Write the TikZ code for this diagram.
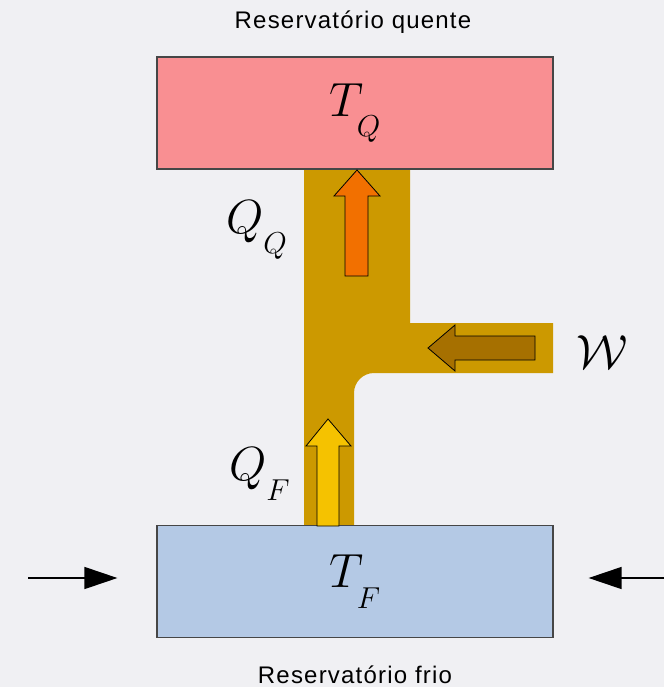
\documentclass[tikz,border=0pt]{standalone}
\usepackage{fix-cm}
\usepackage{fontspec}
\usepackage{graphicx}
\newfontfamily\resfont[LetterSpace=5]{Liberation Sans}
\usetikzlibrary{arrows.meta,positioning}
\definecolor{bgcol}{RGB}{240,240,243}
\definecolor{hotcol}{RGB}{249,143,146}
\definecolor{coldcol}{RGB}{180,201,229}
\definecolor{pipecol}{RGB}{204,153,0}
\definecolor{qqcol}{RGB}{242,112,0}
\definecolor{qfcol}{RGB}{245,194,0}
\definecolor{wcol}{RGB}{166,112,0}
\definecolor{edgecol}{RGB}{70,70,70}
% subscript set lower than usual
\newcommand{\lsub}[1]{_{\raisebox{-13pt}{\scalebox{0.9}{$\scriptstyle #1$}}}}
\begin{document}
\begin{tikzpicture}[x=1pt,y=-1pt,
  reservoir/.style={draw=edgecol,line width=1.2pt,minimum width=396pt,
    minimum height=112pt,inner sep=0pt,font=\fontsize{48}{56}\selectfont},
  restitle/.style={font=\resfont\fontsize{24}{28}\selectfont,inner sep=0pt,anchor=base},
  sym/.style={font=\fontsize{48}{56}\selectfont,inner sep=0pt,anchor=base west},
  blockarrow/.style={draw=black,line width=0.8pt,line join=miter},
  feed/.style={line width=1.3pt,-{Triangle[length=33pt,width=22pt]}}]
  \fill[bgcol] (0,0) rectangle (664,687);
  \useasboundingbox (0,0) rectangle (664,687);
  % The channel between the two reservoirs, with the branch for the work.
  \fill[pipecol] (304,169) -- (410,169) -- (410,323) -- (553,323) -- (553,373)
    -- (374,373) .. controls (363,373) and (354,382) .. (354,393)
    -- (354,526) -- (304,526) -- cycle;
  \node[reservoir,fill=hotcol] (hot) at (355,113) {$T\lsub{Q}$};
  \node[reservoir,fill=coldcol] (cold) at (355,581.5) {$T\lsub{F}$};
  \node[restitle] (hottitle) at (353,29) {Reservatório quente};
  \node[restitle] (coldtitle) at (355,683) {Reservatório frio};
  % Block arrows inside the channel.
  \filldraw[blockarrow,fill=qqcol] (345,276) -- (345,196) -- (334,196) -- (357,170)
    -- (380,196) -- (368,196) -- (368,276) -- cycle;
  \filldraw[blockarrow,fill=qfcol] (317,526) -- (317,446) -- (306,446) -- (328,419)
    -- (351,446) -- (339,446) -- (339,526) -- cycle;
  \filldraw[blockarrow,fill=wcol] (535,336) -- (455,336) -- (455,325) -- (428,348)
    -- (455,371) -- (455,360) -- (535,360) -- cycle;
  \node[sym] (qq) at (226,233) {$Q\lsub{Q}$};
  \node[sym] (qf) at (229,480) {$Q\lsub{F}$};
  \node[sym] (work) at (576,368) {$\mathcal{W}$};
  % Arrows pointing at the cold reservoir from both sides.
  \coordinate (inL) at (28,578);
  \coordinate (inR) at (664,578);
  \draw[feed,shorten >=39pt] (inL) -- (inL -| cold.west);
  \draw[feed,shorten >=35pt] (inR) -- (inR -| cold.east);
\end{tikzpicture}
\end{document}
